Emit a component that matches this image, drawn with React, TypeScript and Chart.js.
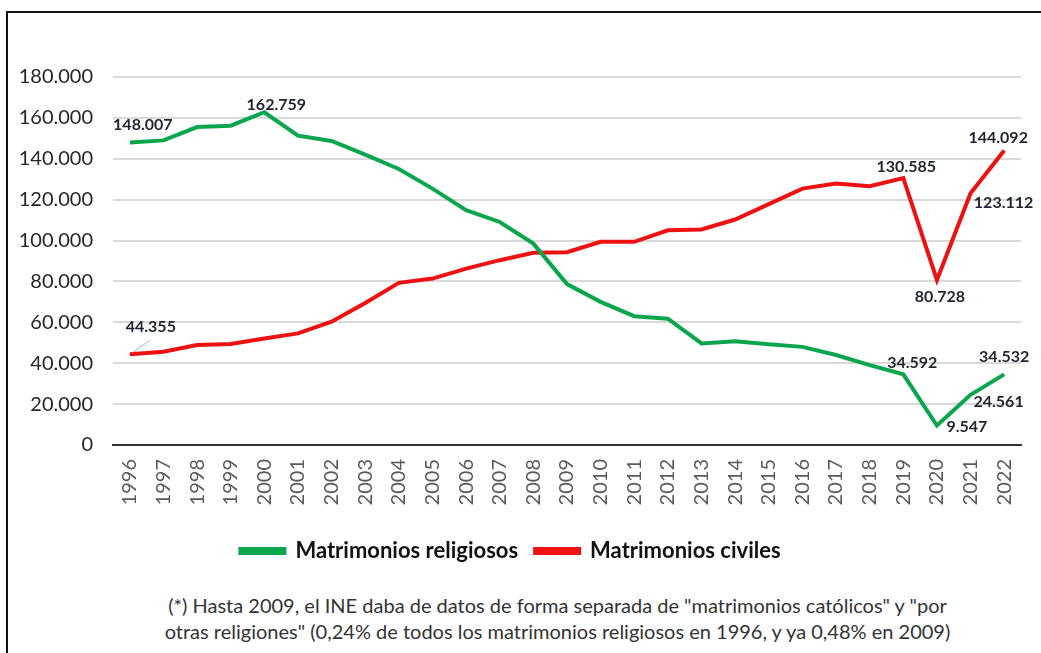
import React, { useEffect, useRef } from "react";
import { Chart, registerables } from "chart.js";

Chart.register(...registerables);

const years = [
  "1996", "1997", "1998", "1999", "2000", "2001", "2002", "2003", "2004",
  "2005", "2006", "2007", "2008", "2009", "2010", "2011", "2012", "2013",
  "2014", "2015", "2016", "2017", "2018", "2019", "2020", "2021", "2022",
];

const religiosos = [
  148007, 149000, 155500, 156200, 162759, 151300, 148700, 142000, 135000,
  125400, 114900, 109100, 98500, 78700, 70000, 63000, 61800, 49700,
  50800, 49300, 48000, 44000, 39100, 34592, 9547, 24561, 34532,
];

const civiles = [
  44355, 45600, 48900, 49400, 52100, 54600, 60300, 69500, 79300,
  81400, 86300, 90400, 94000, 94300, 99400, 99400, 105000, 105400,
  110300, 117800, 125400, 127900, 126600, 130585, 80728, 123112, 144092,
];

const yTicks = [0, 20000, 40000, 60000, 80000, 100000, 120000, 140000, 160000, 180000];

const seriesNames = ["Matrimonios religiosos", "Matrimonios civiles"];

// which points get a value label: [datasetIndex, pointIndex, dx, dy]
const labelledPoints: [number, number, number, number][] = [
  [0, 0, 13, -18],
  [0, 4, 12, -7],
  [1, 0, 21, -27],
  [1, 23, 3, -11],
  [1, 24, 3, 17],
  [1, 26, -6, -13],
  [1, 25, 33, 10],
  [0, 23, 9, -11],
  [0, 24, 30, 1],
  [0, 25, 28, 7],
  [0, 26, 0, -18],
];

const footnote = [
  '(*) Hasta 2009, el INE daba de datos de forma separada de "matrimonios católicos" y "por',
  'otras religiones" (0,24% de todos los matrimonios religiosos en 1996, y ya 0,48% en 2009)',
];

const fmt = (v: number) => String(v).replace(/\B(?=(\d{3})+(?!\d))/g, ".");

const labelPlugin = {
  id: "valueLabels",
  afterDatasetsDraw(chart: any) {
    const ctx = chart.ctx;
    ctx.save();
    // leader line for first civil label
    const m1 = chart.getDatasetMeta(1);
    const p0 = m1.data[0];
    ctx.strokeStyle = "#b0b0b0";
    ctx.lineWidth = 1;
    ctx.beginPath();
    ctx.moveTo(p0.x + 3, p0.y - 2);
    ctx.lineTo(p0.x + 20, p0.y - 14);
    ctx.stroke();

    ctx.font = "bold 16px Lato";
    ctx.fillStyle = "#1e2430";
    ctx.textAlign = "center";
    ctx.textBaseline = "middle";
    for (const [ds, idx, dx, dy] of labelledPoints) {
      const meta = chart.getDatasetMeta(ds);
      const pt = meta.data[idx];
      const v = chart.data.datasets[ds].data[idx] as number;
      ctx.fillText(fmt(v), pt.x + dx, pt.y + dy);
    }
    ctx.restore();
  },
};

export default function App() {
  const ref = useRef<HTMLCanvasElement>(null);

  useEffect(() => {
    if (!ref.current) return;
    const chart = new Chart(ref.current, {
      type: "line",
      data: {
        labels: years,
        datasets: [
          {
            label: seriesNames[0],
            data: religiosos,
            borderColor: "#0aa64d",
            backgroundColor: "#0aa64d",
            borderWidth: 4,
            pointRadius: 0,
            tension: 0,
          },
          {
            label: seriesNames[1],
            data: civiles,
            borderColor: "#ee1111",
            backgroundColor: "#ee1111",
            borderWidth: 4,
            pointRadius: 0,
            tension: 0,
          },
        ],
      },
      options: {
        animation: false,
        responsive: false,
        maintainAspectRatio: false,
        layout: { padding: { top: 77, right: 20, left: 0, bottom: 8 } },
        plugins: {
          tooltip: { enabled: false },
          legend: {
            position: "bottom",
            labels: {
              boxWidth: 44,
              boxHeight: 4,
              padding: 17,
              color: "#111",
              font: { family: "Lato", size: 22, weight: "bold" },
            },
          },
        },
        scales: {
          x: {
            offset: true,
            grid: { display: false },
            border: { display: true, color: "#333", width: 2 },
            ticks: {
              color: "#595959",
              font: { family: "Lato", size: 20 },
              minRotation: 90,
              maxRotation: 90,
              padding: 6,
              autoSkip: false,
            },
            afterFit(scale: any) {
              scale.height = 78;
            },
          },
          y: {
            min: 0,
            max: 180000,
            afterBuildTicks(scale: any) {
              scale.ticks = yTicks.map((v) => ({ value: v }));
            },
            grid: { color: "#d9d9d9", lineWidth: 2, drawTicks: false },
            border: { display: false },
            ticks: {
              color: "#262626",
              font: { family: "Lato", size: 20 },
              padding: 20,
              callback: (v: any) => fmt(Number(v)),
            },
            afterFit(scale: any) {
              scale.width = 113;
            },
          },
        },
      },
      plugins: [labelPlugin],
    });
    return () => chart.destroy();
  }, []);

  return (
    <div
      style={{
        position: "absolute",
        left: 0,
        top: 0,
        width: 1041,
        height: 653,
        overflow: "hidden",
        background: "#fff",
      }}
    >
      <div
        style={{
          position: "absolute",
          left: 6,
          top: 11,
          width: 1100,
          height: 700,
          border: "2px solid #111",
          boxSizing: "border-box",
        }}
      />
      <canvas
        ref={ref}
        width={1041}
        height={580}
        style={{ position: "absolute", left: 0, top: 0, width: 1041, height: 580 }}
      />
      <div
        style={{
          position: "absolute",
          left: 60,
          width: 995,
          top: 592,
          textAlign: "center",
          fontFamily: "Lato",
          fontSize: 20,
          lineHeight: "26px",
          color: "#333",
          whiteSpace: "nowrap",
        }}
      >
        <div>{footnote[0]}</div>
        <div>{footnote[1]}</div>
      </div>
    </div>
  );
}
